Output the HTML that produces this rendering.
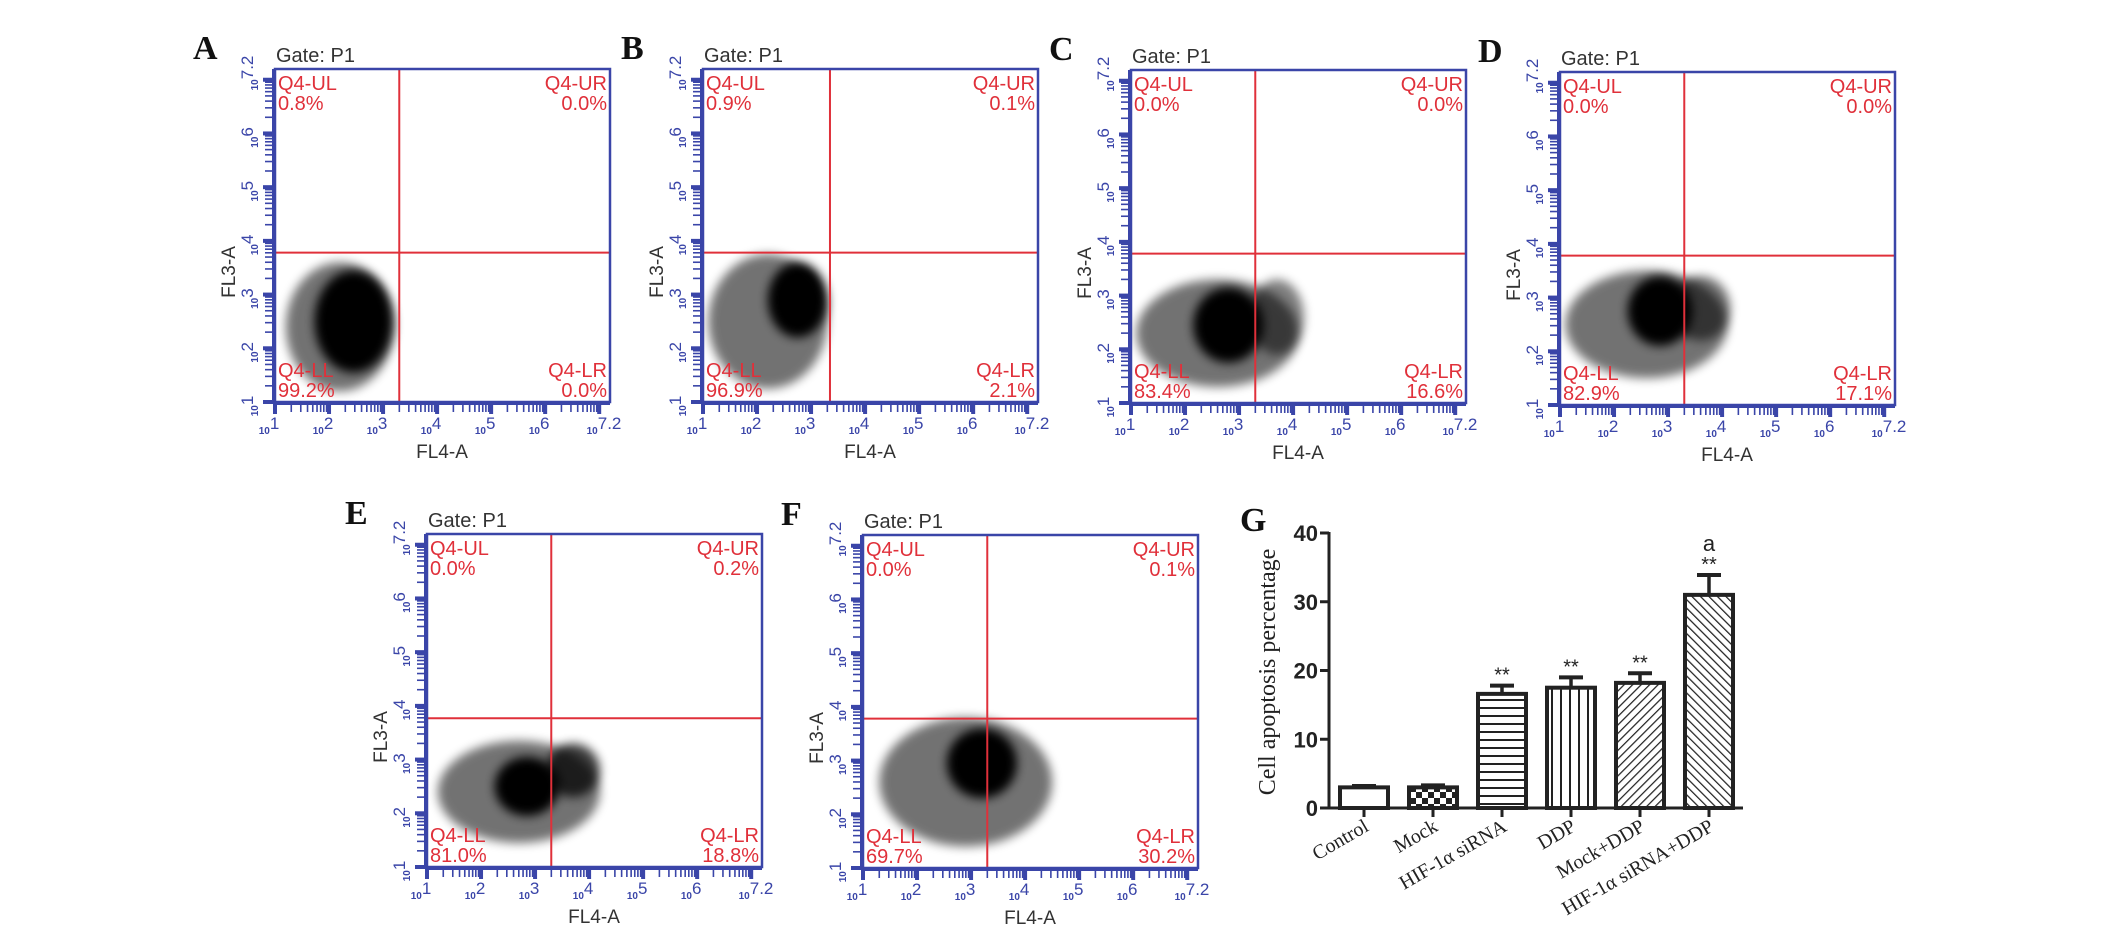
<!DOCTYPE html>
<html><head><meta charset="utf-8"><style>
html,body{margin:0;padding:0;background:#fff;}
svg{display:block;}
</style></head><body>
<svg id="fig" width="2126" height="934" viewBox="0 0 2126 934" xmlns="http://www.w3.org/2000/svg">
<defs>
<filter id="blur" x="-50%" y="-50%" width="200%" height="200%"><feGaussianBlur stdDeviation="5"/></filter>
<pattern id="pat-check" width="12" height="12" patternUnits="userSpaceOnUse"><rect width="12" height="12" fill="#fff"/><rect width="6" height="6" fill="#222"/><rect x="6" y="6" width="6" height="6" fill="#222"/></pattern>
<pattern id="pat-hlines" width="8" height="8" patternUnits="userSpaceOnUse"><rect width="8" height="8" fill="#fff"/><line x1="0" y1="4" x2="8" y2="4" stroke="#222" stroke-width="2"/></pattern>
<pattern id="pat-vlines" width="9" height="9" patternUnits="userSpaceOnUse"><rect width="9" height="9" fill="#fff"/><line x1="4" y1="0" x2="4" y2="9" stroke="#222" stroke-width="2"/></pattern>
<pattern id="pat-fwd" width="6" height="6" patternUnits="userSpaceOnUse" patternTransform="rotate(45)"><rect width="6" height="6" fill="#fff"/><line x1="0" y1="0" x2="0" y2="6" stroke="#222" stroke-width="2.5"/></pattern>
<pattern id="pat-back" width="6" height="6" patternUnits="userSpaceOnUse" patternTransform="rotate(-45)"><rect width="6" height="6" fill="#fff"/><line x1="0" y1="0" x2="0" y2="6" stroke="#222" stroke-width="2.5"/></pattern>
</defs>
</svg>
<script>
// ---- flow cytometry panel data ----
const panelLetters = ['A','B','C','D','E','F'];
const panelLefts = [275, 703, 1131, 1560, 427, 863];
const panelTops = [69, 69, 70, 72, 534, 535];
const ulValues = ['0.8%','0.9%','0.0%','0.0%','0.0%','0.0%'];
const urValues = ['0.0%','0.1%','0.0%','0.0%','0.2%','0.1%'];
const llValues = ['99.2%','96.9%','83.4%','82.9%','81.0%','69.7%'];
const lrValues = ['0.0%','2.1%','16.6%','17.1%','18.8%','30.2%'];
// gates (log10 decades)
const gateX = [3.3, 3.35, 3.3, 3.3, 3.3, 3.3];
const gateY = [3.78, 3.78, 3.78, 3.78, 3.77, 3.78];
// population clouds: [xDecade, yDecade, rxDecades, ryDecades, density]
const cloudA = [[2.2,2.4,1.0,1.2,0.55],[2.45,2.5,0.72,0.95,1]];
const cloudB = [[2.2,2.5,1.1,1.25,0.55],[2.75,2.9,0.55,0.7,1]];
const cloudC = [[2.6,2.3,1.5,1.0,0.55],[3.7,2.6,0.5,0.7,0.5],[2.8,2.45,0.65,0.7,1]];
const cloudD = [[2.6,2.5,1.5,1.0,0.55],[3.6,2.8,0.55,0.6,0.55],[2.85,2.75,0.6,0.65,1]];
const cloudE = [[2.7,2.4,1.5,0.95,0.55],[3.7,2.8,0.5,0.5,0.75],[2.85,2.5,0.6,0.55,1]];
const cloudF = [[2.9,2.6,1.6,1.2,0.55],[3.2,2.95,0.65,0.65,1]];
const clouds = [cloudA, cloudB, cloudC, cloudD, cloudE, cloudF];
const decadeTicks = [1,2,3,4,5,6,7.2];

// ---- bar chart data ----
const barCategories = ['Control','Mock','HIF-1\u03b1 siRNA','DDP','Mock+DDP','HIF-1\u03b1 siRNA+DDP'];
const barValues = [3.0, 3.0, 16.6, 17.5, 18.2, 31.0];
const barErrors = [0.2, 0.3, 1.2, 1.5, 1.4, 2.9];
const barSig = ['', '', '**', '**', '**', '**'];
const barExtra = ['', '', '', '', '', 'a'];
const yTicks = [0, 10, 20, 30, 40];
const barFills = ['#fff','url(#pat-check)','url(#pat-hlines)','url(#pat-vlines)','url(#pat-fwd)','url(#pat-back)'];

const NS = 'http://www.w3.org/2000/svg';
const svg = document.getElementById('fig');
function mk(tag, attrs, parent, text) {
  const e = document.createElementNS(NS, tag);
  for (const k in attrs) e.setAttribute(k, attrs[k]);
  if (text !== undefined) e.textContent = text;
  (parent || svg).appendChild(e);
  return e;
}
const W = 335, H = 333, BLUE = '#3a45a8', RED = '#e0303a';

panelLetters.forEach((letter, i) => {
  const L = panelLefts[i], T = panelTops[i], B = T + H, R = L + W;
  const xs = d => L + (d - 1) * W / 6.2;
  const ys = d => B - (d - 1) * H / 6.2;
  const g = mk('g', {});
  
  

  const lab = mk('text', {x: L - 82, y: T - 10, 'font-family': 'Liberation Serif, serif', 'font-weight': 'bold', 'font-size': 34, fill: '#111'}, g, letter);
  
  
  const gate = mk('text', {x: L + 1, y: T - 7, 'font-family': 'Liberation Sans, sans-serif', 'font-size': 20, fill: '#333'}, g, 'Gate: P1');
  
  

  const cid = 'clip' + i;
  const cp = mk('clipPath', {id: cid}, g);
  mk('rect', {x: L, y: T, width: W, height: H}, cp);
  const cg = mk('g', {'clip-path': 'url(#' + cid + ')'}, g);
  clouds[i].forEach(c => {
    const el = mk('ellipse', {cx: xs(c[0]), cy: ys(c[1]), rx: c[2] * W / 6.2, ry: c[3] * H / 6.2, fill: '#000', opacity: c[4], filter: 'url(#blur)'}, cg);
    
    
  });

  const gv = mk('line', {x1: xs(gateX[i]), y1: T, x2: xs(gateX[i]), y2: B, stroke: RED, 'stroke-width': 2}, g);
  
  
  const gh = mk('line', {x1: L, y1: ys(gateY[i]), x2: R, y2: ys(gateY[i]), stroke: RED, 'stroke-width': 2}, g);
  
  

  const box = mk('rect', {x: L, y: T, width: W, height: H, fill: 'none', stroke: BLUE, 'stroke-width': 2.5}, g);
  
  
  mk('line', {x1: L - 1, y1: T, x2: L - 1, y2: B, stroke: BLUE, 'stroke-width': 4}, g);
  mk('line', {x1: L, y1: B + 1, x2: R, y2: B + 1, stroke: BLUE, 'stroke-width': 4}, g);

  for (let d = 1; d < 7.2; d++) {
    for (let m = 1; m <= 9; m++) {
      const v = d + Math.log10(m);
      if (v > 7.2) break;
      const len = m === 1 ? 12 : 10;
      const sw = m === 1 ? 4 : 1.6;
      mk('line', {x1: L - len, y1: ys(v), x2: L, y2: ys(v), stroke: BLUE, 'stroke-width': sw}, g);
      mk('line', {x1: xs(v), y1: B, x2: xs(v), y2: B + len, stroke: BLUE, 'stroke-width': sw}, g);
    }
  }
  decadeTicks.forEach(d => {
    const exp = String(d);
    const tx = mk('text', {x: xs(d) - 6, y: B + 32, 'font-family': 'Liberation Sans, sans-serif', 'font-weight': 'bold', fill: BLUE, 'text-anchor': 'middle', 'font-size': 10}, g);
    mk('tspan', {}, tx, '10');
    mk('tspan', {dy: -5, 'font-size': 17, 'font-weight': 'normal'}, tx, exp);
    
    
    const ty = mk('text', {x: 0, y: 0, transform: 'translate(' + (L - 17) + ',' + (ys(d) + 4) + ') rotate(-90)', 'font-family': 'Liberation Sans, sans-serif', 'font-weight': 'bold', fill: BLUE, 'text-anchor': 'middle', 'font-size': 10}, g);
    mk('tspan', {}, ty, '10');
    mk('tspan', {dy: -5, 'font-size': 17, 'font-weight': 'normal'}, ty, exp);
    
    
  });
  const xt = mk('text', {x: L + 167, y: B + 56, 'font-family': 'Liberation Sans, sans-serif', 'font-size': 19, fill: '#333', 'text-anchor': 'middle'}, g, 'FL4-A');
  
  
  const yt = mk('text', {x: 0, y: 0, transform: 'translate(' + (L - 40) + ',' + (T + 203) + ') rotate(-90)', 'font-family': 'Liberation Sans, sans-serif', 'font-size': 19, fill: '#333', 'text-anchor': 'middle'}, g, 'FL3-A');
  
  

  const qf = {'font-family': 'Liberation Sans, sans-serif', 'font-size': 20, fill: RED};
  const quads = [['Q4-UL', ulValues[i], L + 3, T + 21, 'start', 'quadrant-ul'],
                 ['Q4-UR', urValues[i], R - 3, T + 21, 'end', 'quadrant-ur'],
                 ['Q4-LL', llValues[i], L + 3, B - 25, 'start', 'quadrant-ll'],
                 ['Q4-LR', lrValues[i], R - 3, B - 25, 'end', 'quadrant-lr']];
  quads.forEach(q => {
    const t1 = mk('text', Object.assign({x: q[2], y: q[3], 'text-anchor': q[4]}, qf), g, q[0]);
    
    
    const t2 = mk('text', Object.assign({x: q[2], y: q[3] + 20, 'text-anchor': q[4]}, qf), g, q[1]);
    
    
  });
});

(function () {
  const AX = 1329, Y0 = 808, Y40 = 533, X0 = 1364, STEP = 69, BW = 48;
  const yS = v => Y0 - (v / 40) * (Y0 - Y40);
  const xC = i => X0 + i * STEP;
  const g = mk('g', {});
  
  
  const lab = mk('text', {x: 1240, y: 531, 'font-family': 'Liberation Serif, serif', 'font-weight': 'bold', 'font-size': 34, fill: '#111'}, g, 'G');
  
  

  barValues.forEach((v, i) => {
    const top = yS(v), cx = xC(i);
    const eTop = yS(v + barErrors[i]);
    const eb = mk('line', {x1: cx, y1: top, x2: cx, y2: eTop, stroke: '#222', 'stroke-width': 3.5}, g);
    
    
    const cap = mk('line', {x1: cx - 12, y1: eTop, x2: cx + 12, y2: eTop, stroke: '#222', 'stroke-width': 4}, g);
    
    
    const r = mk('rect', {x: cx - BW / 2, y: top, width: BW, height: Y0 - top, fill: barFills[i], stroke: '#222', 'stroke-width': 4}, g);
    
    
    if (barSig[i]) {
      const s = mk('text', {x: cx, y: eTop - 4, 'text-anchor': 'middle', 'font-family': 'Liberation Sans, sans-serif', 'font-size': 20, fill: '#222'}, g, barSig[i]);
      
      
    }
    if (barExtra[i]) {
      const a = mk('text', {x: cx, y: eTop - 24, 'text-anchor': 'middle', 'font-family': 'Liberation Sans, sans-serif', 'font-size': 22, fill: '#222'}, g, barExtra[i]);
      
      
    }
    mk('line', {x1: cx, y1: Y0, x2: cx, y2: Y0 + 9, stroke: '#222', 'stroke-width': 3}, g);
    const t = mk('text', {x: 0, y: 0, transform: 'translate(' + (cx + 6) + ',' + (Y0 + 22) + ') rotate(-30)', 'text-anchor': 'end', 'font-family': 'Liberation Serif, serif', 'font-size': 20, fill: '#222'}, g, barCategories[i]);
    
    
  });
  const xa = mk('line', {x1: AX, y1: Y0, x2: 1743, y2: Y0, stroke: '#222', 'stroke-width': 3}, g);
  
  
  const ya = mk('line', {x1: AX, y1: Y40 - 1, x2: AX, y2: Y0 + 1, stroke: '#222', 'stroke-width': 3}, g);
  
  
  yTicks.forEach(v => {
    mk('line', {x1: AX - 9, y1: yS(v), x2: AX, y2: yS(v), stroke: '#222', 'stroke-width': 3}, g);
    const t = mk('text', {x: AX - 11, y: yS(v) + 8, 'text-anchor': 'end', 'font-family': 'Liberation Sans, sans-serif', 'font-weight': 'bold', 'font-size': 22, fill: '#222'}, g, String(v));
    
    
  });
  const yt = mk('text', {x: 0, y: 0, transform: 'translate(1275,672) rotate(-90)', 'text-anchor': 'middle', 'font-family': 'Liberation Serif, serif', 'font-size': 24, fill: '#222'}, g, 'Cell apoptosis percentage');
  
  
})();
</script>
</body></html>
